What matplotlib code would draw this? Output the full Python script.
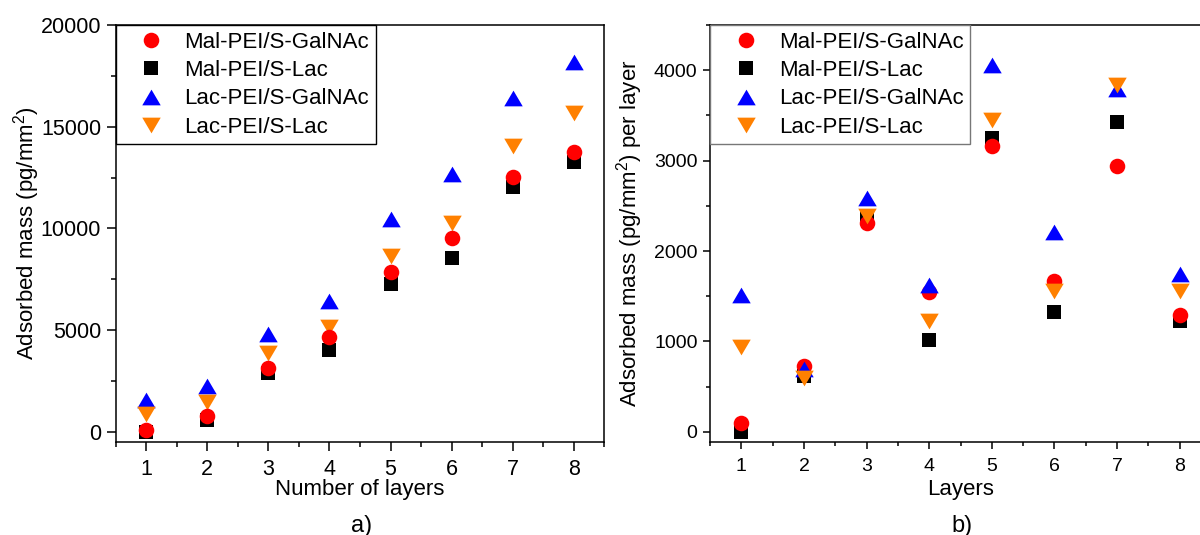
import matplotlib
matplotlib.use("Agg")
import matplotlib.pyplot as plt
from matplotlib.ticker import MultipleLocator

plt.rcParams['font.family'] = ['Liberation Sans', 'DejaVu Sans']
plt.rcParams['mathtext.fontset'] = 'custom'
plt.rcParams['mathtext.rm'] = 'Liberation Sans'
plt.rcParams['mathtext.it'] = 'Liberation Sans:italic'

# ---------------- data ----------------
layers = [1, 2, 3, 4, 5, 6, 7, 8]
series_names = ["Mal-PEI/S-GalNAc", "Mal-PEI/S-Lac", "Lac-PEI/S-GalNAc", "Lac-PEI/S-Lac"]

# a) cumulative adsorbed mass (pg/mm^2)
cum_mal_galnac = [100, 790, 3120, 4670, 7870, 9540, 12510, 13770]
cum_mal_lac = [0, 580, 2900, 4020, 7250, 8560, 12050, 13280]
cum_lac_galnac = [1560, 2250, 4800, 6410, 10450, 12660, 16430, 18170]
cum_lac_lac = [860, 1450, 3870, 5130, 8640, 10250, 14070, 15660]

# b) adsorbed mass per layer (pg/mm^2)
per_mal_galnac = [103, 728, 2305, 1544, 3162, 1673, 2941, 1287]
per_mal_lac = [0, 615, 2390, 1019, 3247, 1324, 3430, 1224]
per_lac_galnac = [1511, 691, 2583, 1621, 4055, 2210, 3787, 1747]
per_lac_lac = [937, 592, 2382, 1224, 3449, 1555, 3835, 1559]

# ---------------- styles ----------------
tri_up = [(0, 0.85), (-1, -0.85), (1, -0.85), (0, 0.85)]
tri_down = [(0, -0.85), (-1, 0.85), (1, 0.85), (0, -0.85)]
styles = [
    dict(marker='o', color='#FF0000', ms=11.2),
    dict(marker='s', color='#000000', ms=9.9),
    dict(marker=tri_up, color='#0000FF', ms=13.3),
    dict(marker=tri_down, color='#FF8000', ms=13.3),
]

W, H = 1200, 535
fig = plt.figure(figsize=(W / 100, H / 100), dpi=100)


def px_axes(x0, y_top, x1, y_bot):
    return fig.add_axes([x0 / W, (H - y_bot) / H, (x1 - x0) / W, (y_bot - y_top) / H])


def style_axes(ax, fs, major_len, minor_len, xpad):
    for s in ax.spines.values():
        s.set_linewidth(1.1)
    ax.tick_params(which='both', direction='out', top=False, right=False, width=1.1,
                   labelsize=fs)
    ax.tick_params(axis='y', which='major', pad=4)
    ax.tick_params(axis='x', which='major', pad=xpad)
    ax.tick_params(which='major', length=major_len)
    ax.tick_params(which='minor', length=minor_len)


def add_legend(ax, edgecolor):
    leg = ax.legend(loc='upper left', borderaxespad=0, fontsize=16, frameon=True,
                    fancybox=False, framealpha=1, edgecolor=edgecolor,
                    borderpad=0.3, labelspacing=0.33, handlelength=2.6,
                    handletextpad=0.2, numpoints=1)
    leg.get_frame().set_linewidth(1.0)
    return leg


# ---------------- a) ----------------
ax1 = px_axes(115.6, 25, 604.5, 442)
series_a = [cum_mal_galnac, cum_mal_lac, cum_lac_galnac, cum_lac_lac]
z_a = [5, 2, 3, 4]
for name, vals, st, z in zip(series_names, series_a, styles, z_a):
    ax1.plot(layers, vals, linestyle='none', marker=st['marker'], ms=st['ms'],
             color=st['color'], mew=0, label=name, zorder=z)
ax1.set_xlim(0.5, 8.5)
ax1.set_ylim(-500, 20000)
ax1.xaxis.set_major_locator(MultipleLocator(1))
ax1.xaxis.set_minor_locator(MultipleLocator(0.5))
ax1.yaxis.set_major_locator(MultipleLocator(5000))
ax1.yaxis.set_minor_locator(MultipleLocator(2500))
style_axes(ax1, 15.5, 6.5, 3.8, 5.5)
ax1.set_xlabel("Number of layers", fontsize=16)
ax1.set_ylabel("Adsorbed mass (pg/mm$^2$)", fontsize=16)
ax1.xaxis.set_label_coords(0.5, -0.088)
ax1.yaxis.set_label_coords(-0.15, 0.5)
add_legend(ax1, 'black')

# ---------------- b) ----------------
ax2 = px_axes(710, 25, 1211, 442)
series_b = [per_mal_galnac, per_mal_lac, per_lac_galnac, per_lac_lac]
z_b = [3, 2, 4, 5]
for name, vals, st, z in zip(series_names, series_b, styles, z_b):
    ax2.plot(layers, vals, linestyle='none', marker=st['marker'], ms=st['ms'],
             color=st['color'], mew=0, label=name, zorder=z)
ax2.set_xlim(0.5, 8.5)
ax2.set_ylim(-112.5, 4500)
ax2.xaxis.set_major_locator(MultipleLocator(1))
ax2.xaxis.set_minor_locator(MultipleLocator(0.5))
ax2.yaxis.set_major_locator(MultipleLocator(1000))
ax2.yaxis.set_minor_locator(MultipleLocator(500))
style_axes(ax2, 14, 5, 3, 6.5)
ax2.set_xlabel("Layers", fontsize=16)
ax2.set_ylabel("Adsorbed mass (pg/mm$^2$) per layer", fontsize=16)
ax2.xaxis.set_label_coords(0.5, -0.088)
ax2.yaxis.set_label_coords(-0.13, 0.5)
add_legend(ax2, '#777777')

fig.text(362 / W, 1 - 526 / H, "a)", fontsize=17, ha='center', va='center')
fig.text(962 / W, 1 - 526 / H, "b)", fontsize=17, ha='center', va='center')

fig.savefig("out.png", dpi=100)
